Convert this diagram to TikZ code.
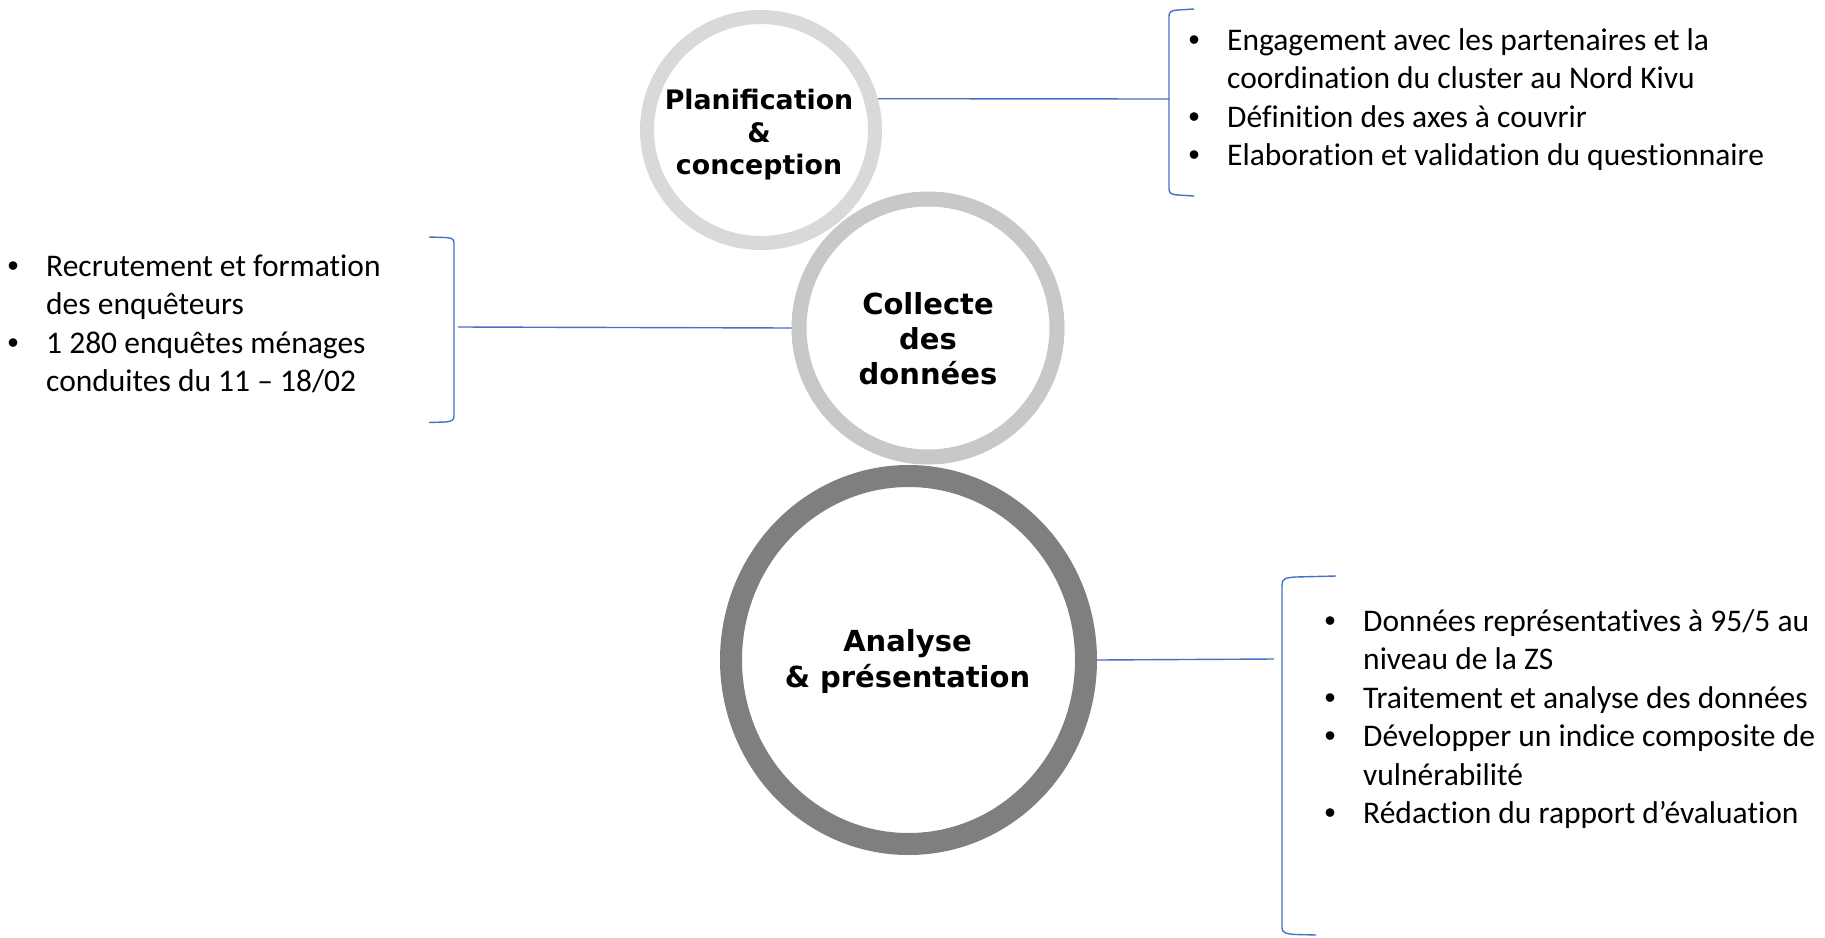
\documentclass[tikz,border=0pt]{standalone}
\usepackage{fontspec}
\setmainfont{Carlito}[Ligatures=NoCommon]
\newfontfamily\verd{DejaVu Sans}
\newfontfamily\arialf{Liberation Sans}
\usetikzlibrary{shapes.geometric}
\definecolor{ringA}{HTML}{D9D9D9}
\definecolor{ringB}{HTML}{C8C8C8}
\definecolor{ringC}{HTML}{7F7F7F}
\definecolor{linkblue}{HTML}{4472C4}
\newcommand{\bul}{\makebox[33pt][l]{\makebox[0pt]{\arialf •}}}
\newcommand{\cont}{\hspace*{33pt}}
\begin{document}
\begin{tikzpicture}[x=1pt,y=-1pt,
  phasering/.style={ellipse, fill=white, inner sep=0pt},
  phasetext/.style={align=center, inner sep=0pt},
  linkline/.style={draw=linkblue, line width=1.4pt},
  bulletlist/.style={anchor=base west, inner sep=0pt, font=\fontsize{31.5}{38.5}\selectfont}]
\useasboundingbox (0,0) rectangle (1825,937);
\fill[white] (0,0) rectangle (1825,937);

% rings
\node[phasering, draw=ringA, line width=14pt, minimum width=228pt, minimum height=226pt] (c1) at (761,130) {};
\node[phasering, draw=ringB, line width=15pt, minimum width=258pt, minimum height=258pt] (c2) at (928,328) {};
\node[phasering, draw=ringC, line width=22pt, minimum width=355pt, minimum height=368pt] (c3) at (908.5,660) {};

% ring labels
\node[phasetext, font=\verd\bfseries\fontsize{26.8}{32.5}\selectfont] (t1) at (759,135) {Planification\\\&\\conception};
\node[phasetext, font=\verd\bfseries\fontsize{29}{35}\selectfont] (t2) at (928,339) {Collecte\\des\\données};
\node[phasetext, font=\verd\bfseries\fontsize{29}{36}\selectfont] (t3) at (907.5,661) {Analyse\\\& présentation};

% brackets
\draw[linkline] (1194,9) -- (1178,10) .. controls (1171,10.5) and (1169,12) .. (1169,16) -- (1169,189) .. controls (1169,193) and (1171,194.5) .. (1178,195) -- (1194,196);
\coordinate (b1) at (1169,99);
\draw[linkline] (429,237) -- (445,237.5) .. controls (452,238) and (454,239) .. (454,243) -- (454,416) .. controls (454,420) and (452,421.5) .. (445,422) -- (429,422.5);
\coordinate (b2) at (458,327);
\draw[linkline] (1336,576) -- (1296,577) .. controls (1285,577.5) and (1282,579) .. (1282,585) -- (1282,928) .. controls (1282,932) and (1285,934) .. (1296,934.5) -- (1316,935);
\coordinate (b3) at (1274,659);

% connectors
\draw[linkline] (c1.15) -- (b1);
\draw[linkline] (b2) -- (c2.west);
\draw[linkline] (c3.east) -- (b3);

% bullet lists
\node[bulletlist] (l1) at (1194,50) {\begin{tabular}[t]{@{}l@{}}
\bul Engagement avec les partenaires et la\\
\cont coordination du cluster au Nord Kivu\\
\bul Définition des axes à couvrir\\
\bul Elaboration et validation du questionnaire
\end{tabular}};
\node[bulletlist] (l2) at (13,276) {\begin{tabular}[t]{@{}l@{}}
\bul Recrutement et formation\\
\cont des enquêteurs\\
\bul 1 280 enquêtes ménages\\
\cont conduites du 11 – 18/02
\end{tabular}};
\node[bulletlist] (l3) at (1330,631) {\begin{tabular}[t]{@{}l@{}}
\bul Données représentatives à 95/5 au\\
\cont niveau de la ZS\\
\bul Traitement et analyse des données\\
\bul Développer un indice composite de\\
\cont vulnérabilité\\
\bul Rédaction du rapport d’évaluation
\end{tabular}};
\end{tikzpicture}
\end{document}
